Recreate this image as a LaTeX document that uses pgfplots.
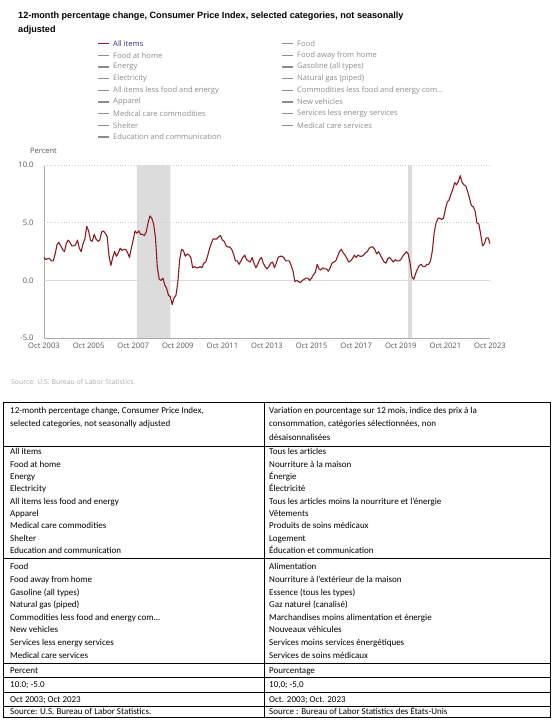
\documentclass[border=0pt]{standalone}
\usepackage{fontspec}
\setmainfont{Liberation Sans}
\newfontfamily\calib{Carlito}
\newfontfamily\seg{Open Sans}
\usepackage{pgfplots}
\usepackage{pgfplotstable}
\pgfplotsset{compat=1.18}
\definecolor{cpired}{RGB}{140,28,32}
\definecolor{leggray}{RGB}{140,140,140}
\definecolor{legblue}{RGB}{50,50,120}
\definecolor{ticktxt}{RGB}{85,85,85}
\definecolor{shade}{RGB}{220,220,220}
\definecolor{axgray}{RGB}{170,170,170}

\pgfplotstableread[row sep=\\]{
v\\
2.0\\ 1.8\\ 1.9\\
1.9\\ 1.7\\ 1.7\\ 2.3\\ 3.1\\ 3.3\\ 3.0\\ 2.7\\ 2.5\\ 3.2\\ 3.5\\ 3.3\\
3.0\\ 3.0\\ 3.1\\ 3.5\\ 2.8\\ 2.5\\ 3.2\\ 3.6\\ 4.7\\ 4.3\\ 3.5\\ 3.4\\
4.0\\ 3.6\\ 3.4\\ 3.5\\ 4.2\\ 4.3\\ 4.1\\ 3.8\\ 2.1\\ 1.3\\ 2.0\\ 2.5\\
2.1\\ 2.4\\ 2.8\\ 2.6\\ 2.7\\ 2.7\\ 2.4\\ 2.0\\ 2.8\\ 3.5\\ 4.3\\ 4.1\\
4.3\\ 4.0\\ 4.0\\ 3.9\\ 4.2\\ 5.0\\ 5.6\\ 5.4\\ 4.9\\ 3.7\\ 1.1\\ 0.1\\
0.0\\ 0.2\\ -0.4\\ -0.7\\ -1.3\\ -1.4\\ -2.1\\ -1.5\\ -1.3\\ -0.2\\ 1.8\\ 2.7\\
2.6\\ 2.1\\ 2.3\\ 2.2\\ 2.0\\ 1.1\\ 1.2\\ 1.1\\ 1.1\\ 1.2\\ 1.1\\ 1.5\\
1.6\\ 2.1\\ 2.7\\ 3.2\\ 3.6\\ 3.6\\ 3.6\\ 3.8\\ 3.9\\ 3.5\\ 3.4\\ 3.0\\
2.9\\ 2.9\\ 2.7\\ 2.3\\ 1.7\\ 1.7\\ 1.4\\ 1.7\\ 2.0\\ 2.2\\ 1.8\\ 1.7\\
1.6\\ 2.0\\ 1.5\\ 1.1\\ 1.4\\ 1.8\\ 2.0\\ 1.5\\ 1.2\\ 1.0\\ 1.2\\ 1.5\\
1.6\\ 1.1\\ 1.5\\ 2.0\\ 2.1\\ 2.1\\ 2.0\\ 1.7\\ 1.7\\ 1.7\\ 1.3\\ 0.8\\
-0.1\\ 0.0\\ -0.1\\ -0.2\\ 0.0\\ 0.1\\ 0.2\\ 0.2\\ 0.0\\ 0.2\\ 0.5\\ 0.7\\
1.4\\ 1.0\\ 0.9\\ 1.1\\ 1.0\\ 1.0\\ 0.8\\ 1.1\\ 1.5\\ 1.6\\ 1.7\\ 2.1\\
2.5\\ 2.7\\ 2.4\\ 2.2\\ 1.9\\ 1.6\\ 1.7\\ 1.9\\ 2.2\\ 2.0\\ 2.2\\ 2.1\\
2.1\\ 2.2\\ 2.4\\ 2.5\\ 2.8\\ 2.9\\ 2.9\\ 2.7\\ 2.3\\ 2.5\\ 2.2\\ 1.9\\
1.6\\ 1.5\\ 1.9\\ 2.0\\ 1.8\\ 1.6\\ 1.8\\ 1.7\\ 1.7\\ 1.8\\ 2.1\\ 2.3\\
2.5\\ 2.3\\ 1.5\\ 0.3\\ 0.1\\ 0.6\\ 1.0\\ 1.3\\ 1.4\\ 1.2\\ 1.2\\ 1.4\\
1.4\\ 1.7\\ 2.6\\ 4.2\\ 5.0\\ 5.4\\ 5.4\\ 5.3\\ 5.4\\ 6.2\\ 6.8\\ 7.0\\
7.5\\ 7.9\\ 8.5\\ 8.3\\ 8.6\\ 9.1\\ 8.5\\ 8.3\\ 8.2\\ 7.7\\ 7.1\\ 6.5\\
6.4\\ 6.0\\ 5.0\\ 4.9\\ 4.0\\ 3.0\\ 3.2\\ 3.7\\ 3.7\\ 3.2\\
}\cpidata

\newcommand\legitem[4]{% x, y(from top), colour line, text
  \draw[#3, line width=1.3pt] (#1,{721-(#2)}) -- ({#1+11},{721-(#2)});
  \node[anchor=west, inner sep=0pt, font=\seg\fontsize{7.6}{8}\selectfont] at ({#1+15},{721-(#2)}) {#4};
}
\newcommand\trow[3]{% baseline y from top, left, right
  \node[anchor=base west, inner sep=0pt] at (10,{721-(#1)}) {#2};
  \node[anchor=base west, inner sep=0pt] at (269,{721-(#1)}) {#3};
}

\begin{document}
\begin{tikzpicture}[x=1pt,y=1pt]
\useasboundingbox (0,0) rectangle (553,721);

% title
\node[anchor=base west, inner sep=0pt, font=\bfseries\fontsize{9.1}{11}\selectfont] at (18,702) {12-month percentage change, Consumer Price Index, selected categories, not seasonally};
\node[anchor=base west, inner sep=0pt, font=\bfseries\fontsize{9.1}{11}\selectfont] at (18,688) {adjusted};

% legend
\legitem{98}{43.5}{cpired}{\textcolor{legblue}{All items}}
\legitem{98}{55.2}{leggray}{\textcolor{leggray}{Food at home}}
\legitem{98}{66.9}{leggray}{\textcolor{leggray}{Energy}}
\legitem{98}{78.6}{leggray}{\textcolor{leggray}{Electricity}}
\legitem{98}{90.3}{leggray}{\textcolor{leggray}{All items less food and energy}}
\legitem{98}{102}{leggray}{\textcolor{leggray}{Apparel}}
\legitem{98}{113.7}{leggray}{\textcolor{leggray}{Medical care commodities}}
\legitem{98}{125.4}{leggray}{\textcolor{leggray}{Shelter}}
\legitem{98}{137.1}{leggray}{\textcolor{leggray}{Education and communication}}
\legitem{282}{43.5}{leggray}{\textcolor{leggray}{Food}}
\legitem{282}{55.2}{leggray}{\textcolor{leggray}{Food away from home}}
\legitem{282}{66.9}{leggray}{\textcolor{leggray}{Gasoline (all types)}}
\legitem{282}{78.6}{leggray}{\textcolor{leggray}{Natural gas (piped)}}
\legitem{282}{90.3}{leggray}{\textcolor{leggray}{Commodities less food and energy com...}}
\legitem{282}{102}{leggray}{\textcolor{leggray}{New vehicles}}
\legitem{282}{113.7}{leggray}{\textcolor{leggray}{Services less energy services}}
\legitem{282}{125.4}{leggray}{\textcolor{leggray}{Medical care services}}

% y unit label
\node[anchor=west, inner sep=0pt, font=\seg\fontsize{7.5}{9}\selectfont, text=ticktxt] at (30,{721-151}) {Percent};

\begin{axis}[
  at={(44pt,383pt)}, anchor=south west,
  scale only axis, width=446pt, height=172.7pt,
  xmin=0, xmax=240, ymin=-5, ymax=10,
  axis x line*=bottom, axis y line*=left,
  axis line style={axgray, line width=0.8pt, -},
  xtick={0,24,...,240},
  xticklabels={Oct 2003,Oct 2005,Oct 2007,Oct 2009,Oct 2011,Oct 2013,Oct 2015,Oct 2017,Oct 2019,Oct 2021,Oct 2023},
  ytick={-5,0,5,10},
  yticklabel style={/pgf/number format/fixed, /pgf/number format/fixed zerofill, /pgf/number format/precision=1, xshift=-7pt},
  /pgf/number format/assume math mode=true,
  major tick length=0pt,
  tick label style={font=\seg\fontsize{7.6}{9}\selectfont, text=ticktxt},
  xticklabel style={yshift=-1pt},
  clip=false,
]
\addplot[fill=shade, draw=none] coordinates {(50,-5) (50,10) (68,10) (68,-5) (50,-5)};
\addplot[fill=shade, draw=none] coordinates {(196,-5) (196,10) (198,10) (198,-5) (196,-5)};
\addplot[draw=gray!40, line width=0.8pt, dotted] coordinates {(0,10) (240,10)};
\addplot[draw=gray!40, line width=0.8pt, dotted] coordinates {(0,5) (240,5)};
\addplot[draw=gray!30, line width=1.8pt] coordinates {(0,0) (240,0)};
\addplot[cpired, line width=1.1pt, line join=round] table[x expr=\coordindex, y=v] {\cpidata};
\end{axis}

% source
\node[anchor=west, inner sep=0pt, font=\seg\fontsize{6.9}{8}\selectfont, text=gray!65] at (11,{721-382}) {Source: U.S. Bureau of Labor Statistics.};

% table
\begin{scope}[line width=0.8pt]
\draw (3,{721-402}) rectangle (550,{721-717});
\draw (264,{721-402}) -- (264,{721-717});
\foreach \yy in {446,558,663,677.5,692,706} \draw (3,{721-\yy}) -- (550,{721-\yy});
\end{scope}

\begin{scope}[font=\calib\fontsize{9}{11}\selectfont]
\trow{414}{12-month percentage change, Consumer Price Index,}{Variation en pourcentage sur 12 mois, indice des prix à la}
\trow{427}{selected categories, not seasonally adjusted}{consommation, catégories sélectionnées, non}
\trow{441}{}{désaisonnalisées}
\trow{455}{All items}{Tous les articles}
\trow{467.3}{Food at home}{Nourriture à la maison}
\trow{479.6}{Energy}{Énergie}
\trow{491.9}{Electricity}{Électricité}
\trow{504.2}{All items less food and energy}{Tous les articles moins la nourriture et l’énergie}
\trow{516.5}{Apparel}{Vêtements}
\trow{528.8}{Medical care commodities}{Produits de soins médicaux}
\trow{541.1}{Shelter}{Logement}
\trow{553.4}{Education and communication}{Éducation et communication}
\trow{570}{Food}{Alimentation}
\trow{582.6}{Food away from home}{Nourriture à l’extérieur de la maison}
\trow{595.2}{Gasoline (all types)}{Essence (tous les types)}
\trow{607.8}{Natural gas (piped)}{Gaz naturel (canalisé)}
\trow{620.4}{Commodities less food and energy com...}{Marchandises moins alimentation et énergie}
\trow{633}{New vehicles}{Nouveaux véhicules}
\trow{645.6}{Services less energy services}{Services moins services énergétiques}
\trow{658.2}{Medical care services}{Services de soins médicaux}
\trow{673.3}{Percent}{Pourcentage}
\trow{688}{10.0; -5.0}{10,0; -5,0}
\trow{702}{Oct 2003; Oct 2023}{Oct. 2003; Oct. 2023}
\trow{714.5}{Source: U.S. Bureau of Labor Statistics.}{Source : Bureau of Labor Statistics des États-Unis}
\end{scope}
\end{tikzpicture}
\end{document}
